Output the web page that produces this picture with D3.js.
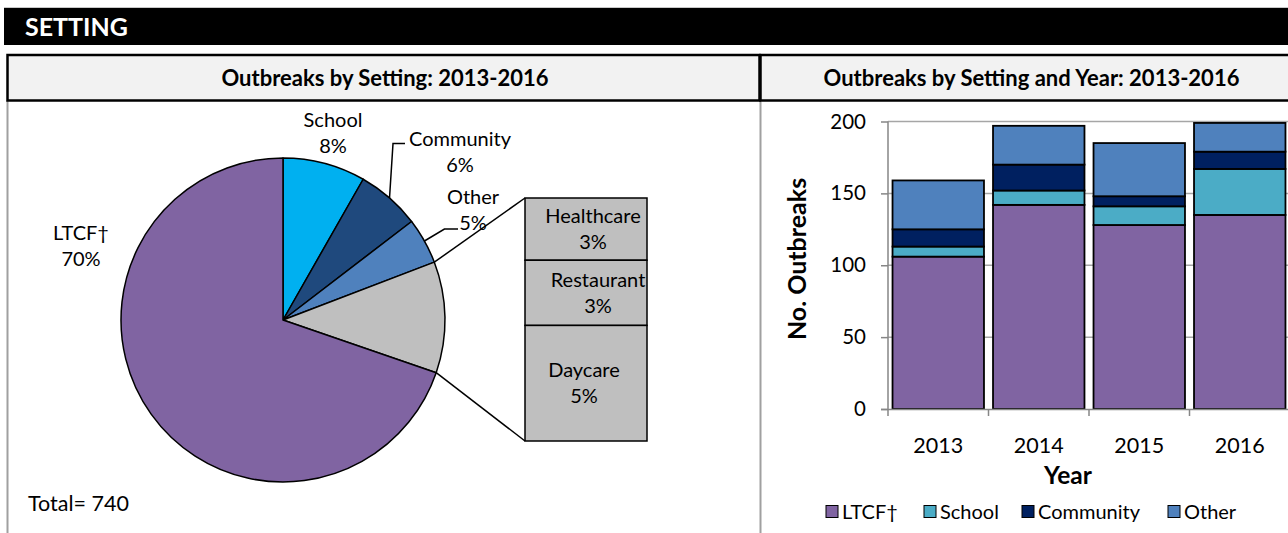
<!DOCTYPE html>
<html><head><meta charset="utf-8">
<script src="https://cdn.jsdelivr.net/npm/d3@7"></script>
<style>
body{margin:0;background:#fff;overflow:hidden}
text{font-family:Lato,"Open Sans",sans-serif;fill:#000}
</style>
</head><body>
<svg id="c" width="1288" height="533"></svg>
<script>
// ---------- data ----------
const pieCategories = ["School", "Community", "Other", "Other settings", "LTCF†"];
const pieValues = [61, 47, 34, 82, 516];
const piePercents = ["8%", "6%", "5%", "", "70%"];
const subCategories = ["Healthcare", "Restaurant", "Daycare"];
const subValues = [21, 22, 39];
const subPercents = ["3%", "3%", "5%"];
const pieTotal = 740;

const years = ["2013", "2014", "2015", "2016"];
const seriesNames = ["LTCF†", "School", "Community", "Other"];
const ltcfValues = [106, 142, 128, 135];
const schoolValues = [7, 10, 13, 32];
const communityValues = [12, 18, 7, 12];
const otherValues = [34, 27, 37, 20];
const yTickValues = [0, 50, 100, 150, 200];

// ---------- styling ----------
const pieColors = ["#00b0f0", "#1f497d", "#4f81bd", "#bfbfbf", "#8064a2"];
const barColors = ["#8064a2", "#4bacc6", "#002060", "#4f81bd"];
const labelSize = "20px";

const svg = d3.select("#c");

// ---------- frame ----------
svg.append("rect").attr("x", 4).attr("y", 7).attr("width", 1290).attr("height", 1).attr("fill", "#c8c8c8");
svg.append("rect").attr("x", 4).attr("y", 8).attr("width", 1290).attr("height", 37).attr("fill", "#000");
svg.append("text").attr("x", 25).attr("y", 36).text("SETTING")
  .style("fill", "#fff").style("font-weight", 700).style("font-size", "25px");

// panel grey borders
[7.5, 760.5].forEach(x => svg.append("line").attr("x1", x).attr("x2", x).attr("y1", 100).attr("y2", 540)
  .attr("stroke", "#a0a0a0").attr("stroke-width", 2));

// sub-header boxes
const boxes = [{x: 7.5, w: 752, cx: 385, t: "Outbreaks by Setting: 2013-2016"},
               {x: 760.5, w: 560, cx: 1031.5, t: "Outbreaks by Setting and Year: 2013-2016"}];
boxes.forEach(b => {
  svg.append("rect").attr("x", b.x).attr("y", 55).attr("width", b.w).attr("height", 45.5)
    .attr("fill", "#f2f2f2").attr("stroke", "#000").attr("stroke-width", 2.5);
  svg.append("text").attr("x", b.cx).attr("y", 78).attr("dy", "0.35em").attr("text-anchor", "middle").text(b.t)
    .style("font-weight", 700).style("font-size", "22px");
});

// ---------- pie ----------
const cx = 283, cy = 320, R = 162;
const pie = d3.pie().sort(null).value(d => d)(pieValues);
const arc = d3.arc().innerRadius(0).outerRadius(R);
const gp = svg.append("g").attr("transform", `translate(${cx},${cy})`);
gp.selectAll("path").data(pie).join("path")
  .attr("d", arc).attr("fill", (d, i) => pieColors[i])
  .attr("stroke", "#000").attr("stroke-width", 1.5).attr("stroke-linejoin", "round");

const pt = (a, r) => [cx + r * Math.sin(a), cy - r * Math.cos(a)];

// secondary stacked box
const boxX = 525, boxW = 122, boxTop = 198, boxBot = 441;
const subSum = d3.sum(subValues);
const sy = d3.scaleLinear().domain([0, subSum]).range([boxTop, boxBot]);
const subCum = d3.cumsum(subValues);
const subStart = subValues.map((v, i) => subCum[i] - v);
svg.selectAll("rect.sub").data(subValues).join("rect").attr("class", "sub")
  .attr("x", boxX).attr("width", boxW)
  .attr("y", (d, i) => sy(subStart[i])).attr("height", d => sy(d) - sy(0))
  .attr("fill", "#bfbfbf").attr("stroke", "#000").attr("stroke-width", 1.5);

// connector lines
const grey = pie[3];
const pA = pt(grey.startAngle, R), pB = pt(grey.endAngle, R);
svg.append("line").attr("x1", pA[0]).attr("y1", pA[1]).attr("x2", boxX).attr("y2", sy(0))
  .attr("stroke", "#000").attr("stroke-width", 1.5);
svg.append("line").attr("x1", pB[0]).attr("y1", pB[1]).attr("x2", boxX).attr("y2", sy(subSum))
  .attr("stroke", "#000").attr("stroke-width", 1.5);

// sub labels
const subDx = [7, 12, -2];
subValues.forEach((v, i) => {
  const ym = (sy(subStart[i]) + sy(subCum[i])) / 2;
  const xm = boxX + boxW / 2 + subDx[i];
  svg.append("text").attr("x", xm).attr("y", ym - 13).attr("dy", "0.35em").attr("text-anchor", "middle")
    .style("font-size", labelSize).text(subCategories[i]);
  svg.append("text").attr("x", xm).attr("y", ym + 13).attr("dy", "0.35em").attr("text-anchor", "middle")
    .style("font-size", labelSize).text(subPercents[i]);
});

// pie labels
const labelPos = [
  {i: 0, x: 333, y: 133},
  {i: 1, x: 460, y: 152},
  {i: 2, x: 473, y: 210},
  {i: 4, x: 81, y: 246}
];
labelPos.forEach(p => {
  svg.append("text").attr("x", p.x).attr("y", p.y - 13).attr("dy", "0.35em").attr("text-anchor", "middle")
    .style("font-size", labelSize).text(pieCategories[p.i]);
  svg.append("text").attr("x", p.x).attr("y", p.y + 13).attr("dy", "0.35em").attr("text-anchor", "middle")
    .style("font-size", labelSize).text(piePercents[p.i]);
});
// leader lines
const comm = pie[1], oth = pie[2];
const cA = (comm.startAngle + comm.endAngle) / 2, oA = (oth.startAngle + oth.endAngle) / 2;
const c0 = pt(cA, R);
svg.append("path").attr("d", `M${c0[0]},${c0[1]}L${c0[0] + 3.5},143.5H405`)
  .attr("fill", "none").attr("stroke", "#000").attr("stroke-width", 1.5);
const o0 = pt(oA, R);
svg.append("path").attr("d", `M${o0[0]},${o0[1]}L${o0[0] + 20},229H458`)
  .attr("fill", "none").attr("stroke", "#000").attr("stroke-width", 1.5);

svg.append("text").attr("x", 28).attr("y", 503).attr("dy", "0.35em").style("font-size", "21.5px").text("Total= " + pieTotal);

// ---------- stacked bars ----------
const x = d3.scaleBand().domain(years).range([888, 1290]).paddingInner(0.09).paddingOuter(0.045);
const y = d3.scaleLinear().domain([0, 200]).range([409, 121.5]);
const table = years.map((yr, i) => ({year: yr, "LTCF†": ltcfValues[i], School: schoolValues[i],
  Community: communityValues[i], Other: otherValues[i]}));
const stack = d3.stack().keys(seriesNames)(table);

// gridlines
svg.append("g").selectAll("line").data(yTickValues.slice(1)).join("line")
  .attr("x1", 888).attr("x2", 1290).attr("y1", d => y(d)).attr("y2", d => y(d))
  .attr("stroke", "#a6a6a6").attr("stroke-width", 1.5);

svg.append("g").selectAll("g").data(stack).join("g").attr("fill", (d, i) => barColors[i])
  .selectAll("rect").data(d => d).join("rect")
  .attr("x", d => x(d.data.year)).attr("width", x.bandwidth())
  .attr("y", d => y(d[1])).attr("height", d => y(d[0]) - y(d[1]))
  .attr("stroke", "#000").attr("stroke-width", 1.8);

// y axis
const ya = svg.append("g").attr("transform", "translate(888,0)")
  .call(d3.axisLeft(y).tickValues(yTickValues).tickSize(7).tickPadding(15));
ya.selectAll("path,line").attr("stroke", "#868686").attr("stroke-width", 1.5);
ya.selectAll("text").style("font-size", "20.5px").style("font-family", "Lato").attr("fill", "#000");
ya.select(".domain").attr("d", "M0,409.5V121.5");

// x axis
const xa = svg.append("g").attr("transform", "translate(0,409)")
  .call(d3.axisBottom(x).tickSize(0).tickPadding(29));
xa.select(".domain").attr("stroke", "#868686").attr("stroke-width", 1.5).attr("d", "M881,0.5H1290");
xa.selectAll("text").style("font-size", "21.5px").style("font-family", "Lato").attr("fill", "#000");
const step = x.step();
const bounds = years.map(yr => x(yr) - step * x.paddingInner() / 2).concat([x(years[3]) + x.bandwidth() + step * x.paddingInner() / 2]);
xa.selectAll("line.b").data(bounds).join("line").attr("class", "b")
  .attr("x1", d => d).attr("x2", d => d).attr("y1", 0).attr("y2", 7)
  .attr("stroke", "#868686").attr("stroke-width", 1.5);

svg.append("text").attr("x", 1068).attr("y", 475.5).attr("dy", "0.35em").attr("text-anchor", "middle")
  .style("font-weight", 700).style("font-size", "24.5px").text("Year");
svg.append("text").attr("transform", "translate(797,259) rotate(-90)").attr("dy", "0.35em")
  .attr("text-anchor", "middle").style("font-weight", 700).style("font-size", "25px").text("No. Outbreaks");

// legend
const legX = [826, 924, 1022, 1168];
const lg = svg.append("g");
seriesNames.forEach((s, i) => {
  lg.append("rect").attr("x", legX[i]).attr("y", 505.5).attr("width", 12).attr("height", 12)
    .attr("fill", barColors[i]).attr("stroke", "#000").attr("stroke-width", 1);
  lg.append("text").attr("x", legX[i] + 16).attr("y", 511.5).attr("dy", "0.35em")
    .style("font-size", "20px").text(s);
});
</script>
</body></html>
